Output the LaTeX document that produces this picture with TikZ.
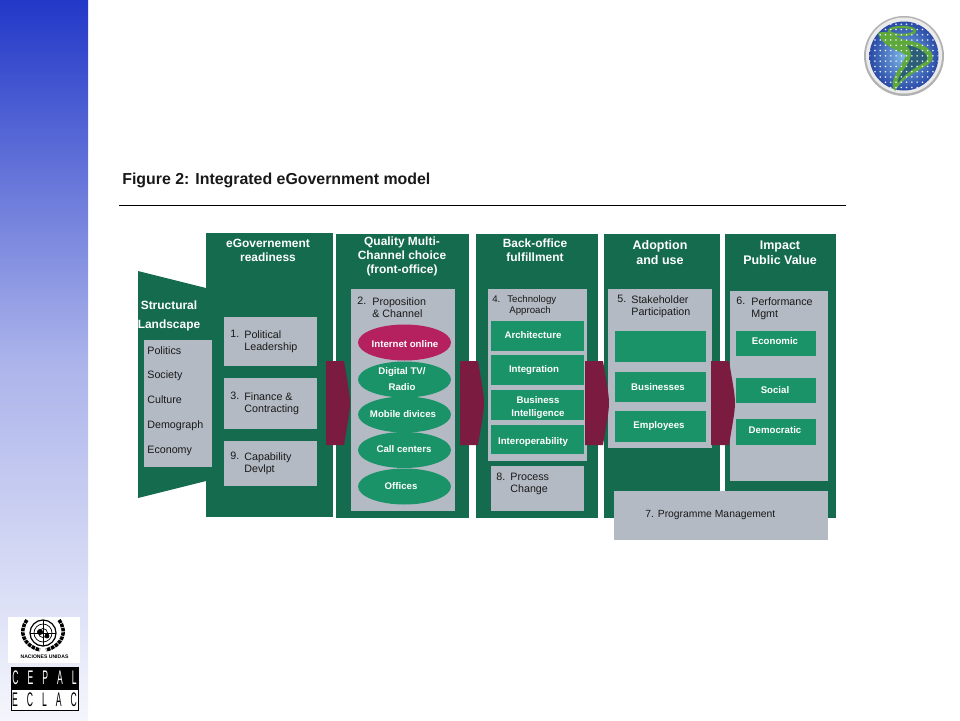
\documentclass[tikz,border=0pt]{standalone}
\usepackage{fontspec}
\setmainfont{Liberation Sans}
\usepackage{xcolor}
\usetikzlibrary{
  positioning,
  shapes.geometric,
  patterns
}
\definecolor{pinedark}{HTML}{146B4D}
\definecolor{slabgray}{HTML}{B4BAC3}
\definecolor{slabteal}{HTML}{1A9369}
\definecolor{wine}{HTML}{7C1B40}
\definecolor{crimson}{HTML}{B5205F}
\definecolor{stripblue}{HTML}{2238C8}
\definecolor{stripfade}{HTML}{F5F6FC}
\definecolor{globepale}{HTML}{7FB8E8}
\definecolor{globedeep}{HTML}{2A4AA6}
\definecolor{swirl}{HTML}{5FA83C}
\definecolor{swirlcore}{HTML}{2C5E78}

\begin{document}
\begin{tikzpicture}[
      x=0.02cm, y=-0.02cm,
      panel/.style={rectangle, fill=pinedark, inner sep=0pt, anchor=north west},
      slab/.style={rectangle, fill=slabgray, inner sep=0pt, anchor=north west},
      tealbox/.style={rectangle, fill=slabteal, inner sep=0pt, anchor=north west},
      channel/.style={ellipse, fill=slabteal, inner sep=0pt, minimum width=1.86cm, minimum height=0.72cm},
      headtext/.style={text=white, align=center, inner sep=0pt, font=\fontsize{6.8}{8}\selectfont\bfseries},
      bodytext/.style={text=black!90, align=left, inner sep=0pt, anchor=north west, font=\fontsize{6.1}{6.9}\selectfont},
      smalltext/.style={text=black!90, align=left, inner sep=0pt, anchor=north west, font=\fontsize{5.5}{6.3}\selectfont},
      inboxtext/.style={text=white, align=center, inner sep=0pt, yshift=-0.5pt, font=\fontsize{5.5}{7.4}\selectfont\bfseries},
      flowmark/.style={fill=wine}
    ]
      \useasboundingbox (0,0) rectangle (960,720);

      % Side strip
      \fill[top color=stripblue, bottom color=stripfade, middle color=stripblue!38!white] (0,0) rectangle (88,720);

      % Title
      \node[anchor=west, inner sep=0pt, font=\fontsize{9.05}{10}\selectfont\bfseries, text=black!90] (title) at (122,180.5) {Figure 2: Integrated eGovernment model};
      \coordinate (ruleL) at (119,205);
      \coordinate (ruleR) at (846,205);
      \draw[line width=0.5pt] (ruleL) -- (ruleR);

      % Panels
      \fill[pinedark] (138,271) -- (206,288) -- (206,481) -- (138,498) -- cycle;
      \node[panel, minimum width=2.54cm, minimum height=5.68cm] (ready) at (206,233) {};
      \node[panel, minimum width=2.66cm, minimum height=5.68cm] (front) at (336,234) {};
      \node[panel, minimum width=2.44cm, minimum height=5.68cm] (back) at (476,234) {};
      \node[panel, minimum width=2.32cm, minimum height=5.68cm] (adopt) at (604,234) {};
      \node[panel, minimum width=2.22cm, minimum height=5.68cm] (impact) at (725,234) {};

      % Headings
      \node[headtext] (structhead) at (169,316) {Structural\\[2.4pt]Landscape};
      \node[headtext] (readyhead) at (268,250) {eGovernement\\readiness};
      \node[headtext] (fronthead) at (402,256.5) {Quality Multi-\\Channel choice\\(front-office)};
      \node[headtext] (backhead) at (535,250.5) {Back-office\\fulfillment};
      \node[headtext, font=\fontsize{7.1}{8.4}\selectfont\bfseries] (adopthead) at (660,252.5) {Adoption\\and use};
      \node[headtext, font=\fontsize{7.1}{8.4}\selectfont\bfseries] (impacthead) at (780,252.5) {Impact\\Public Value};

      % Structural landscape
      \node[slab, minimum width=1.36cm, minimum height=2.54cm] (landscape) at (144,340) {};
      \node[bodytext, anchor=west] (politics) at (147,351) {Politics};
      \node[bodytext, anchor=west] (society) at (147,375.5) {Society};
      \node[bodytext, anchor=west] (culture) at (147,400) {Culture};
      \node[bodytext, anchor=west] (demograph) at (147,425.5) {Demograph};
      \node[bodytext, anchor=west] (economy) at (147,450.5) {Economy};

      % Readiness
      \node[slab, minimum width=1.86cm, minimum height=0.98cm] (leader) at (224,317) {};
      \node[slab, minimum width=1.86cm, minimum height=1.02cm] (finance) at (224,378) {};
      \node[slab, minimum width=1.86cm, minimum height=0.90cm] (capable) at (224,441) {};
      \node[bodytext] (leadernum) at (230,330) {1.};
      \node[bodytext] (leadertxt) at (244,330) {Political\\Leadership};
      \node[bodytext] (financenum) at (230,392) {3.};
      \node[bodytext] (financetxt) at (244,392) {Finance \&\\Contracting};
      \node[bodytext] (capablenum) at (230,452) {9.};
      \node[bodytext] (capabletxt) at (244,452) {Capability\\Devlpt};

      % Front office
      \node[slab, minimum width=2.08cm, minimum height=4.44cm] (channels) at (351,289) {};
      \node[bodytext] (channelsnum) at (357,297) {2.};
      \node[bodytext] (channelstxt) at (372,297) {Proposition\\\& Channel};
      \node[channel, fill=crimson] (internet) at (404.5,342.5) {};
      \node[channel] (digital) at (404.5,379.5) {};
      \node[channel] (mobile) at (404.5,414.5) {};
      \node[channel] (callc) at (404.5,450) {};
      \node[channel] (offices) at (404.5,486.5) {};
      \node[inboxtext] (internettxt) at (405,343) {Internet online};
      \node[inboxtext, font=\fontsize{5.5}{9}\selectfont\bfseries] (digitaltxt) at (402,378) {Digital TV/\\Radio};
      \node[inboxtext] (mobiletxt) at (403,413) {Mobile divices};
      \node[inboxtext] (calltxt) at (404,448) {Call centers};
      \node[inboxtext] (officestxt) at (401,485) {Offices};

      % Back office
      \node[slab, minimum width=1.98cm, minimum height=3.44cm] (techno) at (488,289) {};
      \node[smalltext] (technonum) at (492,295) {4.};
      \node[smalltext] (technotxt) at (507,295) {Technology};
      \node[smalltext] (technotwo) at (509,306) {Approach};
      \node[tealbox, minimum width=1.86cm, minimum height=0.60cm] (archi) at (491,321) {};
      \node[tealbox, minimum width=1.86cm, minimum height=0.60cm] (integ) at (491,355) {};
      \node[tealbox, minimum width=1.86cm, minimum height=0.60cm] (bizint) at (491,390) {};
      \node[tealbox, minimum width=1.86cm, minimum height=0.58cm] (interop) at (491,425) {};
      \node[inboxtext] (architxt) at (533,334) {Architecture};
      \node[inboxtext] (integtxt) at (534,369) {Integration};
      \node[inboxtext] (bizinttxt) at (538,406.5) {Business\\Intelligence};
      \node[inboxtext] (interoptxt) at (533,441) {Interoperability};
      \node[slab, minimum width=1.86cm, minimum height=0.90cm] (process) at (491,466) {};
      \node[bodytext] (processnum) at (496,473) {8.};
      \node[bodytext] (processtxt) at (510,473) {Process\\Change};

      % Adoption
      \node[slab, minimum width=2.08cm, minimum height=3.18cm] (stake) at (608,289) {};
      \node[bodytext] (stakenum) at (617,295) {5.};
      \node[bodytext] (staketxt) at (631,295) {Stakeholder\\Participation};
      \node[tealbox, minimum width=1.82cm, minimum height=0.62cm] (blank) at (615,331) {};
      \node[tealbox, minimum width=1.82cm, minimum height=0.60cm] (business) at (615,372) {};
      \node[tealbox, minimum width=1.82cm, minimum height=0.62cm] (employ) at (615,411) {};
      \node[inboxtext] (businesstxt) at (658,386) {Businesses};
      \node[inboxtext] (employtxt) at (659,425) {Employees};

      % Impact
      \node[slab, minimum width=1.96cm, minimum height=3.80cm] (perform) at (730,291) {};
      \node[bodytext] (performnum) at (736,297) {6.};
      \node[bodytext] (performtxt) at (751,297) {Performance\\Mgmt};
      \node[tealbox, minimum width=1.60cm, minimum height=0.50cm] (econ) at (736,331) {};
      \node[tealbox, minimum width=1.60cm, minimum height=0.50cm] (social) at (736,378) {};
      \node[tealbox, minimum width=1.60cm, minimum height=0.52cm] (democ) at (736,419) {};
      \node[inboxtext] (econtxt) at (775,340) {Economic};
      \node[inboxtext] (socialtxt) at (775,389) {Social};
      \node[inboxtext] (democtxt) at (775,429) {Democratic};

      % Programme management
      \node[slab, minimum width=4.28cm, minimum height=0.98cm] (programme) at (614,491) {};
      \node[bodytext, anchor=west, font=\fontsize{5.9}{6.9}\selectfont] (programmetxt) at (645,515.5) {7. Programme Management};

      % Flow marks
      \fill[flowmark] (326,361) -- (344,361) .. controls (348,385) and (350,395) .. (350,403) .. controls (350,411) and (348,421) .. (344,445) -- (326,445) -- cycle;
      \fill[flowmark] (460,361) -- (478,361) .. controls (482,385) and (484,395) .. (484,403) .. controls (484,411) and (482,421) .. (478,445) -- (460,445) -- cycle;
      \fill[flowmark] (585,361) -- (603,361) .. controls (607,385) and (609,395) .. (609,403) .. controls (609,411) and (607,421) .. (603,445) -- (585,445) -- cycle;
      \fill[flowmark] (711,361) -- (729,361) .. controls (733,385) and (735,395) .. (735,403) .. controls (735,411) and (733,421) .. (729,445) -- (711,445) -- cycle;

      % Globe
      \fill[black!30] (904,56) circle (40);
      \fill[white!92!black] (904,55.5) circle (38);
      \shade[inner color=globepale, outer color=globedeep] (904,56) circle (34.5);
      \fill[swirl] (878,33) .. controls (888,29) and (895,37) .. (905,40) .. controls (925,42) and (938,54) .. (931,62) .. controls (922,70) and (905,74) .. (895,91) .. controls (886,82) and (903,66) .. (906,55) .. controls (898,50) and (881,46) .. (878,33) -- cycle;
      \fill[swirlcore] (906,45) .. controls (920,47) and (931,55) .. (926,61) .. controls (917,67) and (906,72) .. (898,83) .. controls (897,74) and (910,66) .. (911,55) .. controls (911,51) and (909,47) .. (906,45) -- cycle;
      \draw[swirl, line width=1.4pt] (902,31) ellipse (13 and 4);
      \fill[pattern=dots, pattern color=white!85!globepale] (904,56) circle (34.5);

      % UN emblem and CEPAL plate
      \fill[white] (8,617) rectangle (80,663);
      \draw[black, line width=0.7pt] (43,633) circle (13);
      \draw[black, line width=0.4pt] (43,633) circle (9);
      \draw[black, line width=0.4pt] (43,633) circle (4.5);
      \draw[black, line width=0.4pt] (30,633) -- (56,633) (43,620) -- (43,646);
      \fill[black] (40,632) circle (3);
      \fill[black] (47,636) circle (2.4);
      \draw[black, line width=2pt, dash pattern=on 2pt off 0.5pt] (27,620) .. controls (18,632) and (24,646) .. (40,650);
      \draw[black, line width=2pt, dash pattern=on 2pt off 0.5pt] (59,620) .. controls (68,632) and (62,646) .. (46,650);
      \node[inner sep=0pt, font=\fontsize{2.9}{3}\selectfont\bfseries] (unname) at (44.5,657) {NACIONES UNIDAS};
      \node[rectangle, fill=black, draw=black, inner sep=0pt, anchor=north west, minimum width=1.34cm, minimum height=0.44cm] (cepalplate) at (11,667) {};
      \node[rectangle, fill=white, draw=black, inner sep=0pt, anchor=north west, minimum width=1.34cm, minimum height=0.42cm] (eclacplate) at (11,689) {};
      \node[text=white, inner sep=0pt, font=\fontsize{7}{8}\selectfont] (cepaltxt) at (44.5,678) {\scalebox{0.7}[1.6]{C\hspace{1.05em}E\hspace{1.05em}P\hspace{1.05em}A\hspace{1.05em}L}};
      \node[text=black, inner sep=0pt, font=\fontsize{7}{8}\selectfont] (eclactxt) at (44.5,700) {\scalebox{0.7}[1.6]{E\hspace{1.05em}C\hspace{1.05em}L\hspace{1.05em}A\hspace{1.05em}C}};
    \end{tikzpicture}
\end{document}
